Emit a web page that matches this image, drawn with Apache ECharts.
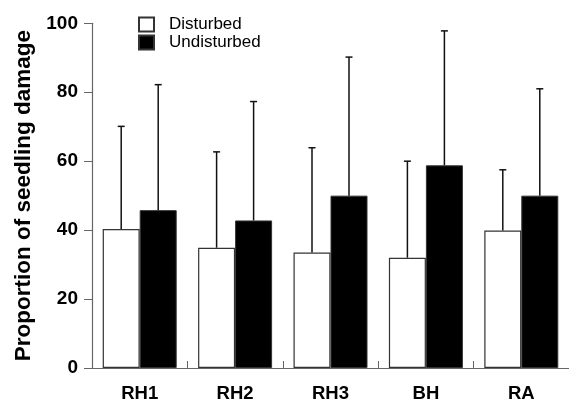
<!DOCTYPE html>
<html>
<head>
<meta charset="utf-8">
<script src="https://cdn.jsdelivr.net/npm/echarts@6/dist/echarts.min.js"></script>
<style>
  html, body { margin: 0; padding: 0; background: #fff; }
  #chart { width: 569px; height: 403px; }
</style>
</head>
<body>
<div id="chart"></div>
<script>
// values (percent)
var sites = ['RH1', 'RH2', 'RH3', 'BH', 'RA'];
var disturbed = [40.3, 34.9, 33.5, 32.0, 39.9];
var disturbedTop = [70.1, 62.7, 63.9, 60.0, 57.5];   // mean + SD
var undisturbed = [45.8, 42.8, 50.0, 58.8, 50.0];
var undisturbedTop = [82.2, 77.3, 90.2, 97.8, 81.0];
var yTicks = [0, 20, 40, 60, 80, 100];

var FONT = '"Liberation Sans", Arial, Helvetica, sans-serif';
var BAR_W = 37;

function errData(means, tops) {
  var out = [];
  for (var i = 0; i < means.length; i++) {
    out.push([i, tops[i], means[i]]);
  }
  return out;
}

// upward-only error bar with a small cap
function errRender(offset) {
  return function (params, api) {
    var base = api.coord([api.value(0), api.value(2)]);
    var top = api.coord([api.value(0), api.value(1)]);
    var x = base[0] + offset;
    return {
      type: 'group',
      children: [
        { type: 'line', shape: { x1: x, y1: base[1], x2: x, y2: top[1] },
          style: { stroke: '#111', lineWidth: 1.5 } },
        { type: 'line', shape: { x1: x - 3.5, y1: top[1], x2: x + 3.5, y2: top[1] },
          style: { stroke: '#111', lineWidth: 1.5 } }
      ]
    };
  };
}

var chart = echarts.init(document.getElementById('chart'));
chart.setOption({
  animation: false,
  backgroundColor: '#fff',
  grid: { left: 92, right: 0, top: 23.3, bottom: 34.7 },
  legend: {
    data: ['Disturbed', 'Undisturbed'],
    orient: 'vertical',
    left: 133,
    top: 11,
    itemWidth: 15,
    itemHeight: 14,
    itemGap: 1,
    icon: 'rect',
    textStyle: { fontFamily: FONT, fontSize: 17, color: '#000', padding: [0, 0, 0, 10] }
  },
  xAxis: {
    type: 'category',
    data: sites,
    axisLine: { lineStyle: { color: '#666', width: 1.2 } },
    axisTick: { show: true, inside: true, length: 7, lineStyle: { color: '#666' } },
    axisLabel: { fontFamily: FONT, fontWeight: 'bold', fontSize: 18.5, color: '#000', margin: 16 }
  },
  yAxis: {
    type: 'value',
    min: yTicks[0],
    max: yTicks[yTicks.length - 1],
    interval: 20,
    name: 'Proportion of seedling damage',
    nameLocation: 'middle',
    nameGap: 55,
    nameTextStyle: { fontFamily: FONT, fontWeight: 'bold', fontSize: 22.5, color: '#000' },
    axisLine: { show: true, lineStyle: { color: '#666', width: 1.2 } },
    axisTick: { show: true, length: 8, lineStyle: { color: '#666' } },
    splitLine: { show: false },
    axisLabel: { fontFamily: FONT, fontWeight: 'bold', fontSize: 19, color: '#000', margin: 14 }
  },
  series: [
    {
      name: 'Disturbed',
      type: 'bar',
      data: disturbed,
      barWidth: BAR_W,
      barGap: 0,
      itemStyle: { color: '#fff', borderColor: '#333', borderWidth: 1.2 }
    },
    {
      name: 'Undisturbed',
      type: 'bar',
      data: undisturbed,
      barWidth: BAR_W,
      barGap: 0,
      itemStyle: { color: '#000', borderColor: '#333', borderWidth: 1 }
    },
    {
      name: 'errDisturbed',
      type: 'custom',
      renderItem: errRender(-BAR_W / 2),
      data: errData(disturbed, disturbedTop),
      encode: { x: 0, y: 1 },
      z: 3
    },
    {
      name: 'errUndisturbed',
      type: 'custom',
      renderItem: errRender(BAR_W / 2),
      data: errData(undisturbed, undisturbedTop),
      encode: { x: 0, y: 1 },
      z: 3
    }
  ]
});
</script>
</body>
</html>
